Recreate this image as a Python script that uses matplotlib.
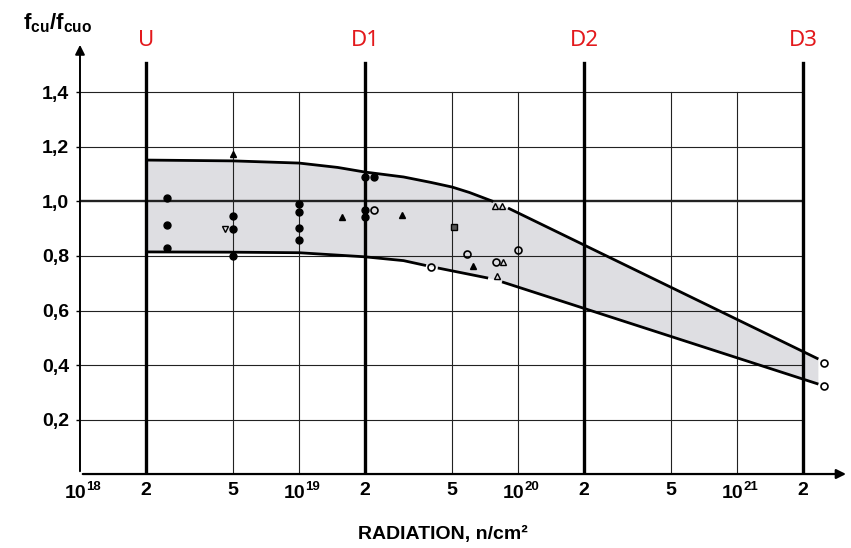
import matplotlib
matplotlib.use("Agg")
import matplotlib.pyplot as plt

plt.rcParams['font.family'] = ['Liberation Sans', 'DejaVu Sans']
plt.rcParams['mathtext.fontset'] = 'custom'
plt.rcParams['mathtext.rm'] = 'Liberation Sans:bold'
plt.rcParams['mathtext.it'] = 'Liberation Sans:bold'
plt.rcParams['mathtext.bf'] = 'Liberation Sans:bold'
plt.rcParams['mathtext.default'] = 'bf'

# x tick positions and labels (decades get "10" plus an exponent)
tick_pos = [1e18, 2e18, 5e18, 1e19, 2e19, 5e19, 1e20, 2e20, 5e20, 1e21, 2e21]
tick_lbl = ['', '2', '5', '', '2', '5', '', '2', '5', '', '2']
decade_pos = [1e18, 1e19, 1e20, 1e21]
decade_exp = ['18', '19', '20', '21']
y_ticks = [0.2, 0.4, 0.6, 0.8, 1.0, 1.2, 1.4]
y_lbl = ['0,2', '0,4', '0,6', '0,8', '1,0', '1,2', '1,4']

# dose levels
dose_names = ['U', 'D1', 'D2', 'D3']
dose_x = [2e18, 2e19, 2e20, 2e21]
thin_x = [5e18, 1e19, 5e19, 1e20, 5e20, 1e21]

# band boundaries
upper_x = [2e18, 5e18, 1e19, 1.5e19, 2e19, 3e19, 4e19, 5e19, 6e19, 7.7e19]
upper_y = [1.152, 1.149, 1.141, 1.125, 1.108, 1.09, 1.07, 1.053, 1.033, 1.0]
upper2_x = [9e19, 2.35e21]
upper2_y = [0.976, 0.422]
lower_x = [2e18, 5e18, 1e19, 2e19, 3e19, 3.8e19]
lower_y = [0.815, 0.814, 0.812, 0.797, 0.783, 0.765]
lower2_x = [4.3e19, 7.3e19]
lower2_y = [0.756, 0.719]
lower3_x = [8.45e19, 2.35e21]
lower3_y = [0.705, 0.33]

# measured points
dot_x = [2.5e18, 2.5e18, 2.5e18, 5e18, 5e18, 5e18, 1e19, 1e19, 1e19, 1e19, 2e19, 2e19, 2e19, 2.2e19]
dot_y = [1.013, 0.914, 0.829, 0.947, 0.899, 0.80, 0.99, 0.961, 0.903, 0.859, 1.09, 0.969, 0.943, 1.09]
tri_x = [5e18, 1.57e19, 2.95e19, 6.2e19]
tri_y = [1.174, 0.942, 0.95, 0.763]
otri_x = [7.85e19, 8.45e19, 8.5e19, 8e19]
otri_y = [0.983, 0.983, 0.778, 0.727]
tridown_x = [4.6e18]
tridown_y = [0.899]
ocirc_x = [2.2e19, 4e19, 5.85e19, 7.9e19, 1e20, 2.5e21, 2.5e21]
ocirc_y = [0.969, 0.76, 0.807, 0.778, 0.822, 0.407, 0.323]
sq_x = [5.1e19]
sq_y = [0.906]

fig = plt.figure(figsize=(8.51, 5.48), dpi=100)
ax = fig.add_axes([0.094, 0.135, 0.906, 0.7957])
ax.set_xscale('log')
ax.set_xlim(1e18, 10 ** 21.52)
ax.set_ylim(0, 1.6)
for s in ax.spines.values():
    s.set_visible(False)

# shaded band
fill_x = upper_x + upper2_x + lower3_x[::-1] + lower2_x[::-1] + lower_x[::-1]
fill_y = upper_y + upper2_y + lower3_y[::-1] + lower2_y[::-1] + lower_y[::-1]
ax.fill(fill_x, fill_y, color='#dedee2', lw=0, zorder=1)

# grid
for y in y_ticks:
    ax.plot([1e18, 2e21], [y, y], color='#222222', lw=1.7 if y == 1.0 else 0.8, zorder=2)
for x in thin_x:
    ax.plot([x, x], [0, 1.4], color='#222222', lw=0.8, zorder=2)
for x, name in zip(dose_x, dose_names):
    ax.plot([x, x], [0, 1.51], color='black', lw=2.4, zorder=3)
    ax.text(x, 1.59, name, color='#e3191c', fontsize=16, ha='center', va='center',
            family='Noto Sans')

# axes with arrows
ax.annotate('', xy=(1e18, 1.585), xytext=(1e18, 0), annotation_clip=False,
            arrowprops=dict(arrowstyle='-|>', color='black', lw=1.4, mutation_scale=14))
ax.annotate('', xy=(10 ** 21.51, 0), xytext=(1e18, 0), annotation_clip=False,
            arrowprops=dict(arrowstyle='-|>', color='black', lw=1.6, mutation_scale=14))

# band boundaries
for bx, by in [(upper_x, upper_y), (upper2_x, upper2_y), (lower_x, lower_y),
               (lower2_x, lower2_y), (lower3_x, lower3_y)]:
    ax.plot(bx, by, color='black', lw=2.0, solid_capstyle='butt', zorder=4)

# points
ax.plot(dot_x, dot_y, 'o', color='black', ms=5, zorder=5)
ax.plot(tri_x, tri_y, '^', color='black', ms=5, zorder=5)
ax.plot(otri_x, otri_y, '^', mfc='none', mec='black', mew=1.0, ms=5, zorder=5)
ax.plot(tridown_x, tridown_y, 'v', mfc='none', mec='black', mew=1.0, ms=5, zorder=5)
ax.plot(ocirc_x, ocirc_y, 'o', mfc='none', mec='black', mew=1.2, ms=5, zorder=5)
ax.plot(sq_x, sq_y, 's', mfc='#555555', mec='black', mew=1.0, ms=5, zorder=5)

ax.set_xticks(tick_pos)
ax.set_xticklabels(tick_lbl, fontsize=14, fontweight='bold')
ax.minorticks_off()
ax.tick_params(axis='x', length=0, pad=6)
ax.set_yticks(y_ticks)
ax.set_yticklabels(y_lbl, fontsize=14, fontweight='bold')
ax.tick_params(axis='y', length=3, width=1, pad=5)

# decade labels: "10" with a raised exponent
for x, e in zip(decade_pos, decade_exp):
    ax.annotate('10', xy=(x, 0), xycoords=('data', 'axes fraction'), xytext=(-3, -14),
                textcoords='offset points', ha='center', va='center',
                fontsize=14, fontweight='bold', annotation_clip=False)
    ax.annotate(e, xy=(x, 0), xycoords=('data', 'axes fraction'), xytext=(10, -9),
                textcoords='offset points', ha='center', va='center',
                fontsize=9.5, fontweight='bold', annotation_clip=False)

fig.text(0.52, 0.025, 'RADIATION, n/cm²', fontsize=14, fontweight='bold',
         ha='center', va='center')
fig.text(0.068, 0.958, r'f$_{\mathbf{cu}}$/f$_{\mathbf{cuo}}$', fontsize=16, fontweight='bold',
         ha='center', va='center')

fig.savefig('out.png', dpi=100)
